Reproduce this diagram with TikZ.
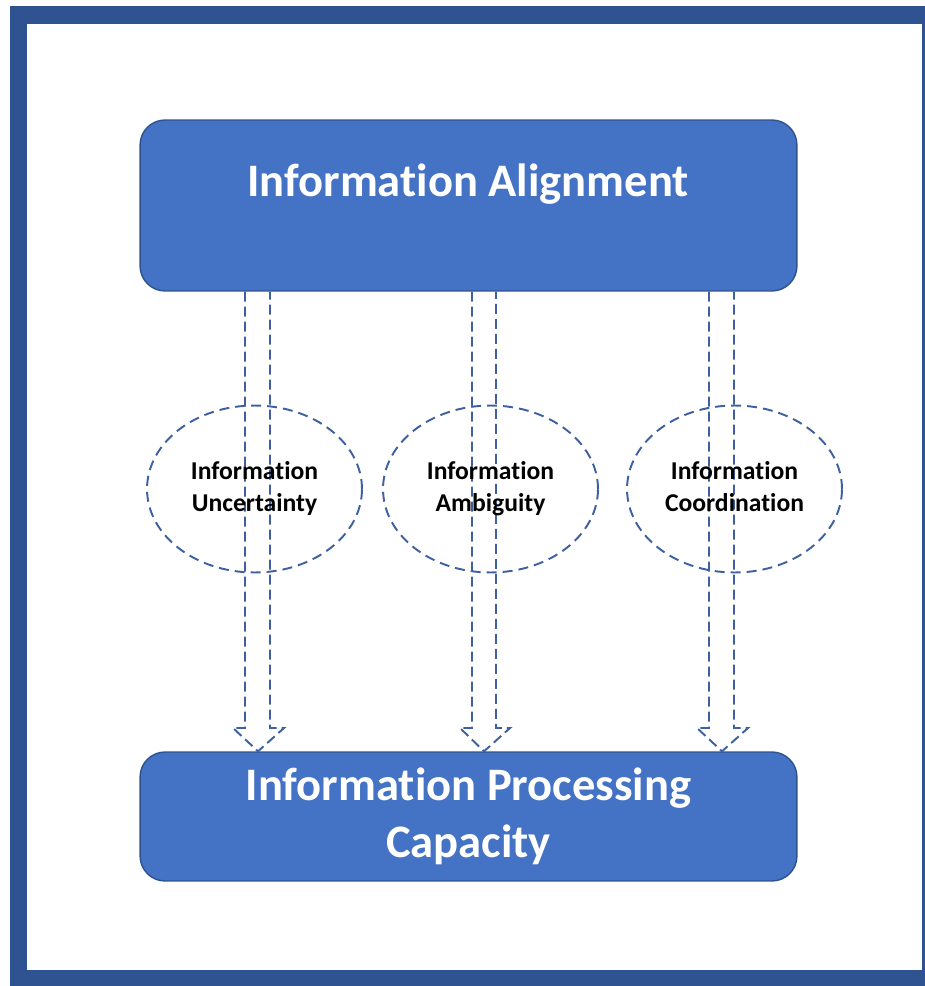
\documentclass[tikz,border=0pt]{standalone}
\usepackage{fontspec}
\setmainfont{Carlito}[Ligatures=NoCommon]
\usetikzlibrary{shapes.geometric,positioning,calc}
\definecolor{boxblue}{RGB}{68,114,196}
\definecolor{edgeblue}{RGB}{47,82,143}
\definecolor{frameblue}{RGB}{47,82,145}
\definecolor{dashblue}{RGB}{62,96,160}

\begin{document}
\begin{tikzpicture}[x=0.02cm,y=-0.02cm,
    bigbox/.style={draw=edgeblue,fill=boxblue,line width=0.8pt,rounded corners=0.5cm,
        minimum width=13.14cm,text=white,align=center,
        font=\fontsize{26.5}{32.5}\selectfont\bfseries},
    factor/.style={ellipse,draw=dashblue,line width=1.1pt,dash pattern=on 0.2cm off 0.12cm,
        minimum width=4.3cm,minimum height=3.34cm,align=center,text depth=0.09cm,
        font=\fontsize{14.6}{18.4}\selectfont\bfseries},
    flowline/.style={dashblue,line width=1.1pt,dash pattern=on 0.2cm off 0.1cm}]
    \clip (0,0) rectangle (925,986);

    % Outer frame
    \draw[frameblue,line width=0.35cm] (18.5,15) rectangle (931,979);

    % Top box
    \node[bigbox,minimum height=3.42cm] (align) at (468.5,205.5) {};
    \node[text=white,anchor=base,font=\fontsize{26.5}{32.5}\selectfont\bfseries] (alignText) at (468,197) {Information Alignment};

    % Bottom box
    \node[bigbox,minimum height=2.58cm] (proc) at (468.5,816.5) {Information Processing\\Capacity};

    % Hollow dashed arrows
    \foreach \xl/\xr/\xm in {245/270/258, 472/496/484, 709/734/722}
        \draw[flowline] (\xl,0 |- align.south) -- (\xl,728) -- (\xl-12,728) -- (\xm,0 |- proc.north)
            -- (\xr+14,728) -- (\xr,728) -- (\xr,0 |- align.south);

    % Ellipses
    \node[factor] (uncert) at (254.5,489) {Information\\Uncertainty};
    \node[factor] (ambig) at (490.5,489) {Information\\Ambiguity};
    \node[factor] (coord) at (734.5,489) {Information\\Coordination};
\end{tikzpicture}
\end{document}
